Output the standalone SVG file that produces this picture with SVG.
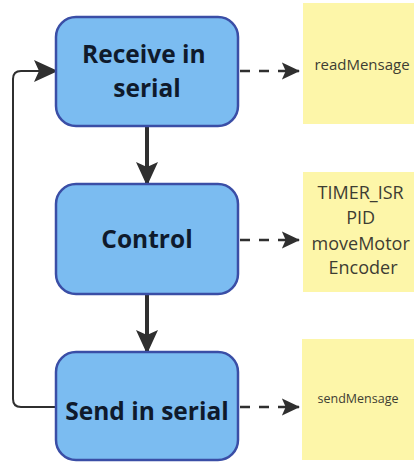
<svg xmlns="http://www.w3.org/2000/svg" width="414" height="462" viewBox="0 0 414 462">
  <style>
    .step { fill: #7bbcf1; stroke: #3a4ea6; stroke-width: 2.5; }
    .step-label { font-family: "Open Sans", "Noto Sans", sans-serif; font-weight: 700; font-size: 24.5px; fill: #0f1a2c; text-anchor: middle; }
    .note { fill: #fdf6a9; }
    .note-label { font-family: "Open Sans", "Noto Sans", sans-serif; fill: #3d3d33; text-anchor: middle; }
    .flow { stroke: #2f2f2f; stroke-width: 4; fill: none; }
    .loop { stroke: #2f2f2f; stroke-width: 2; fill: none; }
    .dash { stroke: #2f2f2f; stroke-width: 2.5; fill: none; stroke-dasharray: 10 9; }
  </style>
  <defs>
    <marker id="head-big" viewBox="0 0 24 24" markerWidth="24" markerHeight="24" refX="22" refY="12" orient="auto" markerUnits="userSpaceOnUse">
      <path d="M0,1 L24,12 L0,23 L5,12 Z" fill="#2f2f2f"/>
    </marker>
    <marker id="head-small" viewBox="0 0 20 20" markerWidth="19" markerHeight="20" refX="18" refY="10" orient="auto" markerUnits="userSpaceOnUse">
      <path d="M0,1 L19,10 L0,19 L4,10 Z" fill="#2f2f2f"/>
    </marker>
  </defs>

  <!-- notes -->
  <g id="note-read">
    <rect class="note" x="303" y="3" width="120" height="121"/>
    <text class="note-label" x="362" y="70" font-size="15">readMensage</text>
  </g>
  <g id="note-control">
    <rect class="note" x="303" y="172" width="120" height="120"/>
    <text class="note-label" font-size="18">
      <tspan x="363" y="199">TIMER_ISR</tspan>
      <tspan x="363" y="224">PID</tspan>
      <tspan x="363" y="250">moveMotor</tspan>
      <tspan x="363" y="274">Encoder</tspan>
    </text>
  </g>
  <g id="note-send">
    <rect class="note" x="302" y="339" width="121" height="121"/>
    <text class="note-label" x="358" y="403" font-size="12.5">sendMensage</text>
  </g>

  <!-- connectors -->
  <g id="connectors">
    <line class="flow" x1="147" y1="127" x2="147" y2="184" marker-end="url(#head-big)"/>
    <line class="flow" x1="147" y1="295" x2="147" y2="352" marker-end="url(#head-big)"/>
    <path class="loop" d="M56,407 H21 Q13,407 13,399 V79 Q13,71 21,71 H56" marker-end="url(#head-big)"/>
    <line class="dash" x1="240" y1="71" x2="299" y2="71" marker-end="url(#head-small)"/>
    <line class="dash" x1="240" y1="240" x2="299" y2="240" marker-end="url(#head-small)"/>
    <line class="dash" x1="240" y1="407" x2="299" y2="407" marker-end="url(#head-small)"/>
  </g>

  <!-- process steps -->
  <g id="step-receive">
    <rect class="step" x="56" y="17" width="182" height="109" rx="20"/>
    <text class="step-label">
      <tspan x="147" y="63">Receive in</tspan>
      <tspan x="147" y="97">serial</tspan>
    </text>
  </g>
  <g id="step-control">
    <rect class="step" x="56" y="184" width="182" height="110" rx="20"/>
    <text class="step-label" x="147" y="248">Control</text>
  </g>
  <g id="step-send">
    <rect class="step" x="56" y="352" width="182" height="108" rx="20"/>
    <text class="step-label" x="147" y="420">Send in serial</text>
  </g>
</svg>
